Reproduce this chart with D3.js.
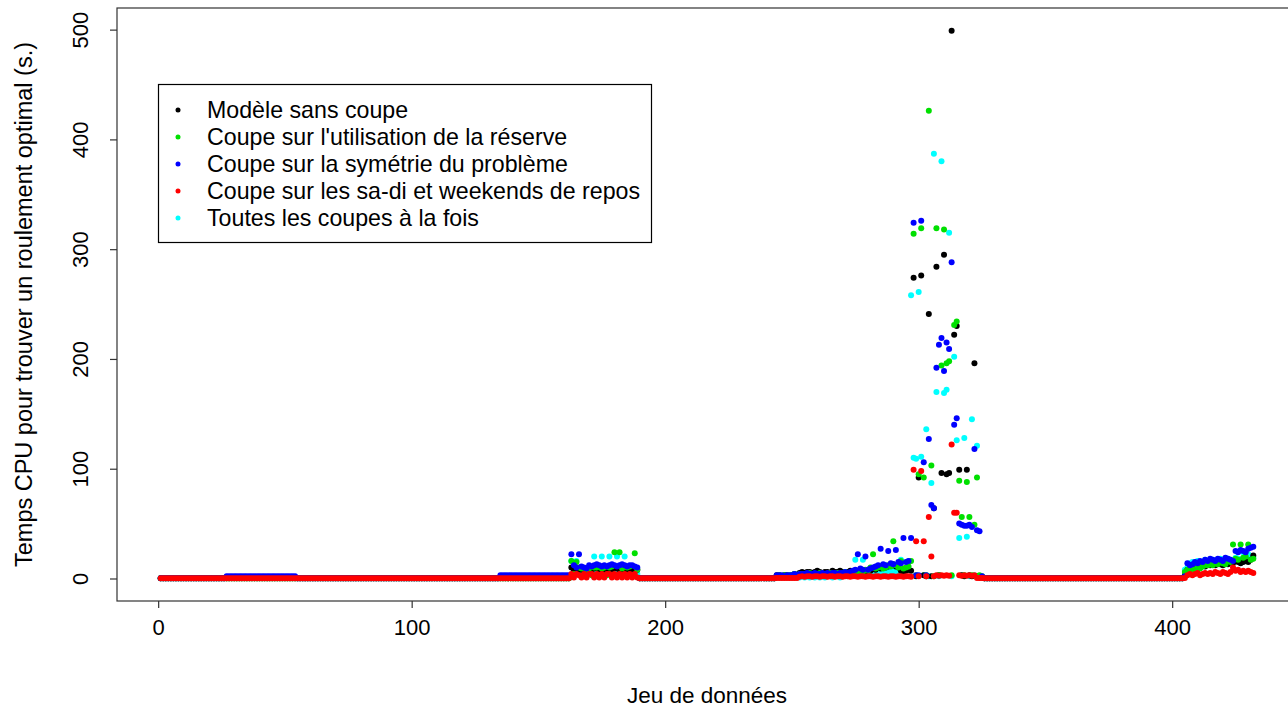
<!DOCTYPE html>
<html>
<head>
<meta charset="utf-8">
<script src="https://cdn.jsdelivr.net/npm/d3@7"></script>
<style>
  body { margin: 0; background: #fff; }
  text { font-family: "Liberation Sans", Arial, sans-serif; fill: #000; }
</style>
</head>
<body>
<svg id="chart" width="1288" height="710"></svg>
<script>
// number of data sets on the x axis
const nSets = 432;
// level of the flat parts (all series near 0 s)
const flatLevel = 0.3;

const xTicks = [0, 100, 200, 300, 400];
const yTicks = [0, 100, 200, 300, 400, 500];

const seriesNames = [
  "Modèle sans coupe",
  "Coupe sur l'utilisation de la réserve",
  "Coupe sur la symétrie du problème",
  "Coupe sur les sa-di et weekends de repos",
  "Toutes les coupes à la fois"
];
const seriesColors = ["#000000", "#00e000", "#0000ff", "#ff0000", "#00ffff"];

// first data set of each non-flat block
const startA = 163, startB = 244, startC = 405;
const startP1 = 27, startP2 = 135;

// block A : data sets 163-189
const blackA = [10,8,9,8,8,7,9,8,8,9, 10,8,9,8,8,9,8,10,9,8, 8,9,8,7,9,8,8];
const greenA = [16,4,15,10,9,3,8,9,3,10, 10,3,9,10,3,10,11,24,3,24, 9,3,10,11,3,23,8];
const blueA  = [22,12,10,22,11,10,9,12,11,12, 13,12,11,12,11,12,13,12,11,12, 13,12,11,12,12,11,10];
const redA   = [4,1,4,3,1,4,1,4,4,1, 4,1,4,1,4,4,1,4,1,4, 1,4,1,4,1,4,1];
const cyanA  = [16,5,16,6,5,4,7,5,5,20, 6,5,20,5,6,20,5,6,20,5, 6,20,5,6,5,6,4];

// block B : data sets 244-325
const blackB = [3,3,2,3,3,2,3,4,3,5, 6,5,6,6,5,6,7,6,5,6, 6,5,7,6,6,7,6,5,6,7,
  6,5,7,6,7,6,8,7,9,8, 10,9,12,10,11,12,13,11,10,7, 6,7,8,7,274,2,92,276,3,2,
  241,2,64,284,3,96,295,95,96,499, 222,230,99,3,2,99,3,2,196,2, 1,1];
const greenB = [2,3,2,3,2,3,3,4,3,4, 4,3,4,5,4,3,4,5,4,3, 4,5,4,3,5,4,5,6,5,4,
  5,6,5,7,6,8,7,10,22,9, 10,11,9,10,12,11,34,12,10,16, 9,10,11,16,314,3,95,319,92,3,
  426,103,2,319,3,194,318,196,198,3, 231,234,89,56,3,88,56,3,49,92, 3,2];
const blueB  = [3,3,3,2,3,3,3,4,3,4, 4,4,5,4,4,5,4,4,5,4, 5,4,5,5,4,5,5,6,5,6,
  7,8,22,9,8,20,8,9,10,11, 12,27,13,12,25,14,13,26,15,14, 37,15,16,37,324,3,3,326,106,3,
  127,67,64,192,213,219,189,215,209,288, 140,146,50,49,48,48,49,47,118,44, 43,2];
const redB   = [0.5,0.5,0.5,0.5,0.5,0.5,0.5,0.5,0.5,1.5, 2,1.5,2,2,1.5,2,2,1.5,2,2,
  1.5,2,2,1.5,2,2,1.5,2,2,1.5, 2,2,1.5,2,2,1.5,2,2,1.5,2, 2,1.5,2,2,1.5,2,2,1.5,2,2,
  1.5,2,2,1.5,99,34,2,98,34,2, 56,20,2,3,2.5,3,2.5,3,2.5,122, 60,60,3,2.5,3,2.5,3,2.5,3,0.5, 0.5,0.5];
const cyanB  = [1,1,1,1,1,1,1,1,1,1, 2,1,2,1,2,1,2,1,2,1, 2,2,1,2,2,1,2,3,2,3,
  4,17,3,4,17,3,5,4,3,5, 6,5,7,6,8,6,10,6,5,17, 6,9,16,258,110,109,261,111,3,136,
  2,87,387,170,2,380,169,172,315,2, 202,126,37,3,128,38,2,145,3,121, 2,1];

// block C : data sets 405-432
const blackC = [3,8,9,10,9,11,10,12,11,13, 12,13,12,14,13,12,14,13,15,14, 16,15,14,15,16,15,17,21];
const greenC = [6,8,7,9,8,10,9,11,12,12, 13,12,14,13,15,14,13,16,15,31, 18,17,31,19,20,31,17,18];
const blueC  = [2,14,12,13,15,14,16,15,17,16, 18,17,16,18,17,16,19,18,17,16, 25,24,26,25,24,27,28,29];
const redC   = [0.5,3,4,3,4,5,3,4,5,4, 5,4,6,5,4,6,5,4,6,10, 7,8,6,7,6,7,6,5];
const cyanC  = [8,10,14,15,13,16,15,14,17,16, 15,17,16,15,18,17,16,18,17,16, 19,18,17,24,17,22,20,19];

// small blue plateaus: data sets 27-54 and 135-162
const blueP1 = [2,2,2,2,2,2,2,2,2,2, 2,2,2,2,2,2,2,2,2,2, 2,2,2,2,2,2,2,2];
const blueP2 = [3,3,3,3,3,3,3,3,3,3, 3,3,3,3,3,3,3,3,3,3, 3,3,3,3,3,3,3,3];

function buildSeries(blocks) {
  const v = new Array(nSets).fill(flatLevel);
  blocks.forEach(([start, vals]) => vals.forEach((d, i) => { v[start - 1 + i] = d; }));
  return v.map((d, i) => ({ x: i + 1, y: d }));
}

const series = [
  buildSeries([[startA, blackA], [startB, blackB], [startC, blackC]]),
  buildSeries([[startA, greenA], [startB, greenB], [startC, greenC]]),
  buildSeries([[startP1, blueP1], [startP2, blueP2], [startA, blueA], [startB, blueB], [startC, blueC]]),
  buildSeries([[startA, redA], [startB, redB], [startC, redC]]),
  buildSeries([[startA, cyanA], [startB, cyanB], [startC, cyanC]])
];
// drawing order: cyan first, red on top
const drawOrder = [4, 0, 1, 2, 3];

const svg = d3.select("#chart");
const plotL = 117, plotR = 1297, plotT = 8, plotB = 601;

const x = d3.scaleLinear().domain([-16.24, 449.24]).range([plotL, plotR]);
const y = d3.scaleLinear().domain([-20.5, 519.7]).range([plotB, plotT]);

svg.append("rect").attr("width", 1288).attr("height", 710).attr("fill", "#fff");

// points
drawOrder.forEach(k => {
  svg.append("g")
    .selectAll("circle")
    .data(series[k])
    .join("circle")
    .attr("cx", d => x(d.x))
    .attr("cy", d => y(d.y))
    .attr("r", 3)
    .attr("fill", seriesColors[k]);
});

// box
svg.append("rect")
  .attr("x", plotL).attr("y", plotT)
  .attr("width", plotR - plotL).attr("height", plotB - plotT)
  .attr("fill", "none").attr("stroke", "#333").attr("stroke-width", 1.2);

// x axis
const xAxis = svg.append("g")
  .attr("transform", `translate(0,${plotB})`)
  .call(d3.axisBottom(x).tickValues(xTicks).tickSize(7).tickFormat(d3.format("d")));
xAxis.select(".domain").remove();
xAxis.selectAll("line").attr("stroke", "#333").attr("stroke-width", 1.2);
xAxis.selectAll("text")
  .attr("y", 34).attr("dy", 0)
  .style("font-size", "22px").attr("fill", "#000");

// y axis
const yAxis = svg.append("g")
  .attr("transform", `translate(${plotL},0)`)
  .call(d3.axisLeft(y).tickValues(yTicks).tickSize(7).tickFormat(d3.format("d")));
yAxis.select(".domain").remove();
yAxis.selectAll("line").attr("stroke", "#333").attr("stroke-width", 1.2);
yAxis.selectAll("text")
  .attr("x", 0).attr("dy", 0)
  .attr("transform", "translate(-29,0) rotate(-90)")
  .attr("text-anchor", "middle")
  .style("font-size", "22px").attr("fill", "#000");

// axis titles
svg.append("text")
  .attr("x", (plotL + plotR) / 2).attr("y", 703)
  .attr("text-anchor", "middle")
  .style("font-size", "22.5px")
  .text("Jeu de données");

svg.append("text")
  .attr("transform", `translate(32,${(plotT + plotB) / 2}) rotate(-90)`)
  .attr("text-anchor", "middle")
  .style("font-size", "23.5px")
  .text("Temps CPU pour trouver un roulement optimal (s.)");

// legend
const legend = svg.append("g");
legend.append("rect")
  .attr("x", 158.5).attr("y", 84.5).attr("width", 493).attr("height", 158)
  .attr("fill", "#fff").attr("stroke", "#000").attr("stroke-width", 1.2);

const rows = legend.selectAll("g.row")
  .data(seriesNames)
  .join("g")
  .attr("class", "row")
  .attr("transform", (d, i) => `translate(0,${110 + i * 27})`);
rows.append("circle")
  .attr("cx", 178).attr("cy", 0).attr("r", 2.5)
  .attr("fill", (d, i) => seriesColors[i]);
rows.append("text")
  .attr("x", 207).attr("y", 8)
  .style("font-size", "23.2px")
  .text(d => d);
</script>
</body>
</html>
